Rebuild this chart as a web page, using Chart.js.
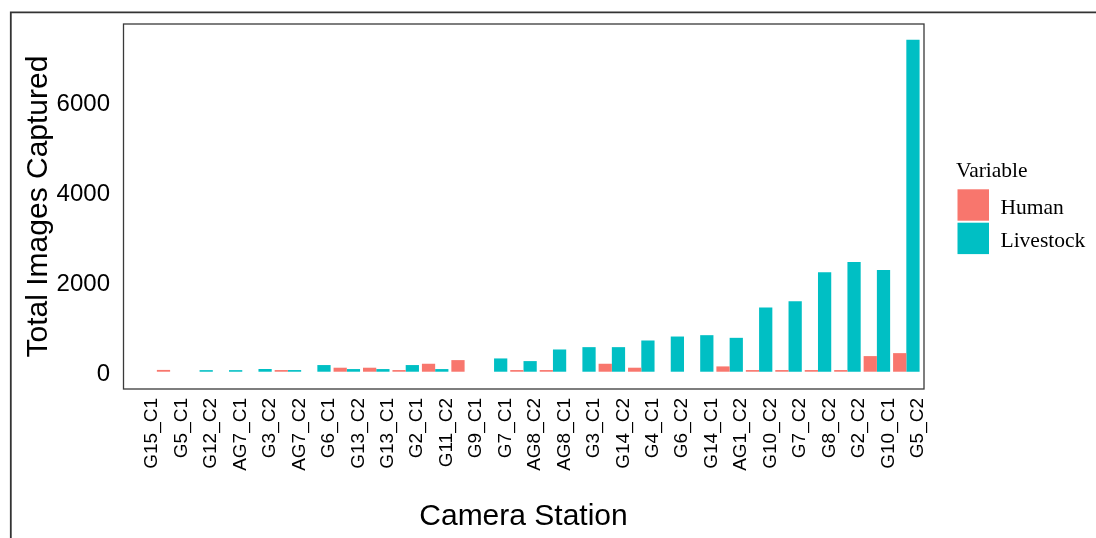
<!DOCTYPE html>
<html>
<head>
<meta charset="utf-8">
<title>Total Images Captured par station</title>
<script src="https://cdn.jsdelivr.net/npm/chart.js@4.4.1/dist/chart.umd.min.js"></script>
<style>
    html, body { margin: 0; padding: 0; background: #ffffff; }
    #chartStations { display: block; }
</style>
</head>
<body>
<canvas id="chartStations" width="1096" height="538"></canvas>
<script>
// Données (ordre des stations tel qu'affiché)
const stations = [
    "G15_C1", "G5_C1", "G12_C2", "AG7_C1", "G3_C2", "AG7_C2", "G6_C1",
    "G13_C2", "G13_C1", "G2_C1", "G11_C2", "G9_C1", "G7_C1", "AG8_C2",
    "AG8_C1", "G3_C1", "G14_C2", "G4_C1", "G6_C2", "G14_C1", "AG1_C2",
    "G10_C2", "G7_C2", "G8_C2", "G2_C2", "G10_C1", "G5_C2"
];

const humanImages = [
    0, 40, 0, 0, 0, 37, 0,
    89, 89, 37, 177, 258, 0, 37,
    37, 0, 177, 89, 0, 0, 118,
    37, 37, 37, 37, 347, 413
];

const livestockImages = [
    0, 0, 35, 35, 60, 37, 148,
    59, 59, 148, 59, 0, 295, 236,
    494, 546, 546, 694, 782, 812, 753,
    1425, 1566, 2208, 2436, 2259, 7376
];

const yTicks = [0, 2000, 4000, 6000];
const seriesNames = ["Human", "Livestock"];
const legendTitle = "Variable";

const COLOR_HUMAN = '#F8766D';
const COLOR_LIVESTOCK = '#00BFC4';
const SANS = '"Liberation Sans", Arial, sans-serif';

// Axe discret façon ggplot : 0.6 catégorie de marge de chaque côté
class PaddedCategoryScale extends Chart.CategoryScale {
    configure() {
        super.configure();
        const n = this.getLabels().length;
        this._startValue = -0.6;
        this._valueRange = (n - 1) + 1.2;
    }
}
PaddedCategoryScale.id = 'paddedCategory';
PaddedCategoryScale.defaults = Chart.CategoryScale.defaults;
Chart.register(PaddedCategoryScale);

// Cadres (figure + panneau) et légende dessinés à la main
const framePlugin = {
    id: 'frame',
    afterDraw(chart) {
        const ctx = chart.ctx;
        const area = chart.chartArea;
        ctx.save();

        // cadre extérieur de la figure
        ctx.strokeStyle = '#333333';
        ctx.lineWidth = 1.8;
        ctx.beginPath();
        ctx.moveTo(10.8, 538);
        ctx.lineTo(10.8, 12.3);
        ctx.lineTo(1096, 12.3);
        ctx.stroke();

        // bordure du panneau
        ctx.strokeStyle = '#3a3a3a';
        ctx.lineWidth = 1.3;
        ctx.strokeRect(area.left + 0.5, area.top, area.right - area.left - 0.5, area.bottom - area.top);

        // légende
        const colors = [COLOR_HUMAN, COLOR_LIVESTOCK];
        ctx.fillStyle = '#000000';
        ctx.font = '21.5px "Liberation Serif", "Times New Roman", serif';
        ctx.textAlign = 'left';
        ctx.textBaseline = 'alphabetic';
        ctx.fillText(legendTitle, 956, 176.5);
        const boxTops = [189.3, 222.7];
        const baselines = [214.3, 247.3];
        seriesNames.forEach((name, i) => {
            ctx.fillStyle = colors[i];
            ctx.fillRect(957.5, boxTops[i], 31.5, 31.4);
            ctx.fillStyle = '#000000';
            ctx.fillText(name, 1000.5, baselines[i]);
        });

        ctx.restore();
    }
};

const ctxStations = document.getElementById('chartStations').getContext('2d');
const stationsChart = new Chart(ctxStations, {
    type: 'bar',
    data: {
        labels: stations,
        datasets: [{
            label: seriesNames[0],
            data: humanImages,
            backgroundColor: COLOR_HUMAN
        }, {
            label: seriesNames[1],
            data: livestockImages,
            backgroundColor: COLOR_LIVESTOCK
        }]
    },
    options: {
        responsive: false,
        animation: false,
        layout: {
            padding: { left: 0, top: 24, right: 172, bottom: 0 }
        },
        datasets: {
            bar: {
                categoryPercentage: 0.9,
                barPercentage: 1.0,
                borderWidth: 0
            }
        },
        plugins: {
            legend: { display: false },
            tooltip: { enabled: false }
        },
        scales: {
            x: {
                type: 'paddedCategory',
                offset: false,
                grid: { display: false, drawTicks: false },
                border: { display: false },
                ticks: {
                    autoSkip: false,
                    minRotation: 90,
                    maxRotation: 90,
                    padding: 9,
                    labelOffset: 11.5,   // les libellés ggplot sont décalés vers la droite
                    color: '#000000',
                    font: { family: SANS, size: 19 }
                },
                title: {
                    display: true,
                    text: 'Camera Station',
                    color: '#000000',
                    padding: { top: 0, bottom: 3 },
                    font: { family: SANS, size: 30 }
                },
                afterFit(scale) {
                    scale.height = 149;
                    scale.paddingLeft = 0;
                    scale.paddingRight = 0;
                }
            },
            y: {
                min: -384,
                max: 7726,
                grid: { display: false, drawTicks: false },
                border: { display: false },
                ticks: {
                    padding: 13,
                    labelOffset: 3,
                    color: '#000000',
                    font: { family: SANS, size: 24 },
                    callback: (value) => String(value)
                },
                afterBuildTicks(scale) {
                    scale.ticks = yTicks.map(v => ({ value: v }));
                },
                title: {
                    display: true,
                    text: 'Total Images Captured',
                    color: '#000000',
                    padding: { top: 21, bottom: 0 },
                    font: { family: SANS, size: 30 }
                },
                afterFit(scale) {
                    scale.width = 123;
                    scale.paddingTop = 0;
                    scale.paddingBottom = 0;
                }
            }
        }
    },
    plugins: [framePlugin]
});
</script>
</body>
</html>
